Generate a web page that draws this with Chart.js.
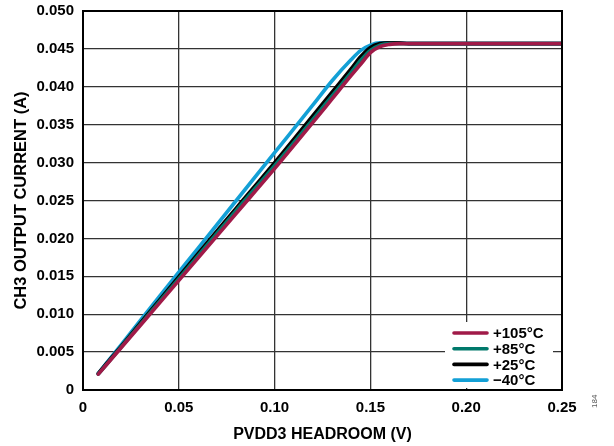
<!DOCTYPE html>
<html>
<head>
<meta charset="utf-8">
<script src="https://cdn.jsdelivr.net/npm/chart.js@4/dist/chart.umd.min.js"></script>
<style>
  html, body { margin: 0; padding: 0; background: #fff; }
  #wrap { position: relative; width: 614px; height: 446px; }
  #note { position: absolute; left: 590px; top: 408px; font: 8px "Liberation Sans", Arial, sans-serif; color: #555; transform: rotate(-90deg); transform-origin: left top; }
</style>
</head>
<body>
<div id="wrap">
  <canvas id="c" width="614" height="446"></canvas>
  <div id="note">184</div>
</div>
<script>
const xValues = [0.008, 0.02, 0.04, 0.06, 0.08, 0.10, 0.12, 0.13, 0.14, 0.145, 0.15, 0.155, 0.16, 0.165, 0.17, 0.18, 0.20, 0.22, 0.25];
const seriesLabels = ['+105°C', '+85°C', '+25°C', '\u221240°C'];
const seriesColors = ['#A01A48', '#00796B', '#000000', '#13A0D6'];
const red105 = [0.0021, 0.0056, 0.0115, 0.0174, 0.0233, 0.0292, 0.0353, 0.0384, 0.0415, 0.0430, 0.0445, 0.0453, 0.0456, 0.0457, 0.0457, 0.0457, 0.0457, 0.0457, 0.0457];
const green85 = [0.0021, 0.0057, 0.0117, 0.0177, 0.0237, 0.0296, 0.0357, 0.0388, 0.0419, 0.0435, 0.0448, 0.0455, 0.0457, 0.0457, 0.0457, 0.0457, 0.0457, 0.0457, 0.0457];
const black25 = [0.0022, 0.0058, 0.0119, 0.0180, 0.0240, 0.0300, 0.0362, 0.0393, 0.0424, 0.0440, 0.0452, 0.0457, 0.0458, 0.0458, 0.0457, 0.0457, 0.0457, 0.0457, 0.0457];
const blueM40 = [0.0022, 0.0060, 0.0124, 0.0187, 0.0250, 0.0313, 0.0376, 0.0408, 0.0436, 0.0448, 0.0455, 0.0458, 0.0458, 0.0458, 0.0457, 0.0457, 0.0457, 0.0457, 0.0457];
const seriesValues = [red105, green85, black25, blueM40];
const xTickLabels = ['0', '0.05', '0.10', '0.15', '0.20', '0.25'];
const yTickLabels = ['0', '0.005', '0.010', '0.015', '0.020', '0.025', '0.030', '0.035', '0.040', '0.045', '0.050'];

const FONT = '"Liberation Sans", Arial, sans-serif';

const datasets = seriesValues.map((vals, i) => ({
  label: seriesLabels[i],
  data: vals.map((v, j) => ({ x: xValues[j], y: v })),
  borderColor: seriesColors[i],
  backgroundColor: seriesColors[i],
  borderWidth: 3.6,
  pointRadius: 0,
  fill: false,
  cubicInterpolationMode: 'monotone',
  borderCapStyle: 'round'
}));

const framePlugin = {
  id: 'frame',
  afterDraw(chart) {
    const { ctx, chartArea: a } = chart;
    ctx.save();
    ctx.strokeStyle = '#000';
    ctx.lineWidth = 2;
    ctx.strokeRect(a.left, a.top, a.right - a.left, a.bottom - a.top);
    // legend
    const bx = 445, by = 322, bw = 108, bh = 66;
    ctx.fillStyle = '#fff';
    ctx.fillRect(bx, by, bw, bh);
    ctx.font = 'bold 15px ' + FONT;
    ctx.textBaseline = 'middle';
    chart.data.datasets.forEach((ds, i) => {
      const y = 333 + i * 15.7;
      ctx.strokeStyle = ds.borderColor;
      ctx.lineWidth = 3.6;
      ctx.lineCap = 'round';
      ctx.beginPath();
      ctx.moveTo(454, y);
      ctx.lineTo(487, y);
      ctx.stroke();
      ctx.fillStyle = '#000';
      ctx.fillText(ds.label, 493, y + 1);
    });
    ctx.restore();
  }
};

new Chart(document.getElementById('c'), {
  type: 'line',
  data: { datasets },
  options: {
    responsive: false,
    animation: false,
    layout: { padding: { left: 0, top: 11, right: 52, bottom: 0 } },
    plugins: { legend: { display: false }, tooltip: { enabled: false } },
    scales: {
      x: {
        type: 'linear', min: 0, max: 0.25,
        afterFit(s) { s.height = 56; s.paddingLeft = 0; s.paddingRight = 0; },
        afterBuildTicks(s) { s.ticks = xTickLabels.map((t, i) => ({ value: i * 0.05 })); },
        ticks: {
          padding: 9, color: '#000', maxRotation: 0, autoSkip: false,
          font: { family: FONT, size: 15, weight: 'bold' },
          callback: (v, i) => xTickLabels[i]
        },
        grid: { color: '#333', lineWidth: 1.3, drawTicks: false },
        border: { display: false },
        title: { display: true, text: 'PVDD3 HEADROOM (V)', color: '#000', font: { family: FONT, size: 16, weight: 'bold' }, padding: { top: 0, bottom: 2 } }
      },
      y: {
        type: 'linear', min: 0, max: 0.05,
        afterFit(s) { s.width = 83; s.paddingTop = 0; s.paddingBottom = 0; },
        afterBuildTicks(s) { s.ticks = yTickLabels.map((t, i) => ({ value: i * 0.005 })); },
        ticks: {
          padding: 9, color: '#000', autoSkip: false,
          font: { family: FONT, size: 15, weight: 'bold' },
          callback: (v, i) => yTickLabels[i]
        },
        grid: { color: '#333', lineWidth: 1.3, drawTicks: false },
        border: { display: false },
        title: { display: true, text: 'CH3 OUTPUT CURRENT (A)', color: '#000', font: { family: FONT, size: 16.5, weight: 'bold' }, padding: { top: 12, bottom: 0 } }
      }
    }
  },
  plugins: [framePlugin]
});
</script>
</body>
</html>
